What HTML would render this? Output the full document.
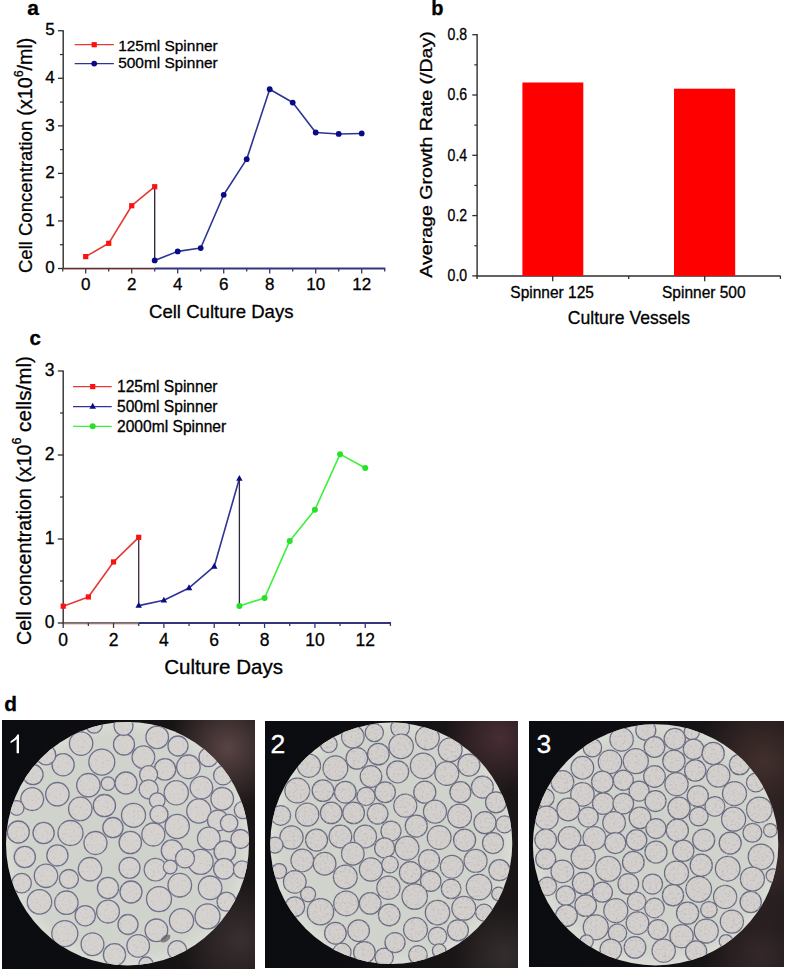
<!DOCTYPE html>
<html><head><meta charset="utf-8"><title>Figure</title>
<style>html,body{margin:0;padding:0;background:#fff;}body{width:785px;height:971px;overflow:hidden;font-family:"Liberation Sans", sans-serif;}svg{display:block;}text{stroke:#000;stroke-width:0.3px;}</style>
</head><body>
<svg width="785" height="971" viewBox="0 0 785 971" font-family='"Liberation Sans", sans-serif'><defs><clipPath id="pc0"><rect x="2" y="720" width="253" height="249"/></clipPath><clipPath id="fc0"><ellipse cx="127.5" cy="843.7" rx="121.5" ry="121.7"/></clipPath><radialGradient id="gl0_0" gradientUnits="userSpaceOnUse" cx="228" cy="748" r="60"><stop offset="0" stop-color="#5c4646" stop-opacity="0.95"/><stop offset="1" stop-color="#5c4646" stop-opacity="0"/></radialGradient><radialGradient id="gl0_1" gradientUnits="userSpaceOnUse" cx="240" cy="940" r="60"><stop offset="0" stop-color="#3e3434" stop-opacity="0.85"/><stop offset="1" stop-color="#3e3434" stop-opacity="0"/></radialGradient><linearGradient id="lg0" x1="0" y1="0" x2="1" y2="0"><stop offset="0" stop-color="#0b0c10"/><stop offset="0.5" stop-color="#0f0f12"/><stop offset="0.85" stop-color="#1e1819"/><stop offset="1" stop-color="#1a1516"/></linearGradient><radialGradient id="fg0" cx="0.5" cy="0.5" r="0.5"><stop offset="0" stop-color="#ced2cb"/><stop offset="0.9" stop-color="#d1d4cd"/><stop offset="1" stop-color="#dadcd6"/></radialGradient><clipPath id="pc1"><rect x="265" y="721" width="253" height="247"/></clipPath><clipPath id="fc1"><ellipse cx="391.3" cy="843.3" rx="121" ry="120.7"/></clipPath><radialGradient id="gl1_0" gradientUnits="userSpaceOnUse" cx="500" cy="738" r="55"><stop offset="0" stop-color="#4c3038" stop-opacity="0.9"/><stop offset="1" stop-color="#4c3038" stop-opacity="0"/></radialGradient><radialGradient id="gl1_1" gradientUnits="userSpaceOnUse" cx="505" cy="955" r="50"><stop offset="0" stop-color="#3a3434" stop-opacity="0.8"/><stop offset="1" stop-color="#3a3434" stop-opacity="0"/></radialGradient><linearGradient id="lg1" x1="0" y1="0" x2="1" y2="0"><stop offset="0" stop-color="#0b0c10"/><stop offset="0.5" stop-color="#0f0f12"/><stop offset="0.85" stop-color="#1e1819"/><stop offset="1" stop-color="#1a1516"/></linearGradient><radialGradient id="fg1" cx="0.5" cy="0.5" r="0.5"><stop offset="0" stop-color="#ced2cb"/><stop offset="0.9" stop-color="#d1d4cd"/><stop offset="1" stop-color="#dadcd6"/></radialGradient><clipPath id="pc2"><rect x="529" y="721" width="255" height="246"/></clipPath><clipPath id="fc2"><ellipse cx="655.6" cy="844.8" rx="122.7" ry="120.6"/></clipPath><radialGradient id="gl2_0" gradientUnits="userSpaceOnUse" cx="765" cy="762" r="70"><stop offset="0" stop-color="#46322f" stop-opacity="0.9"/><stop offset="1" stop-color="#46322f" stop-opacity="0"/></radialGradient><radialGradient id="gl2_1" gradientUnits="userSpaceOnUse" cx="772" cy="860" r="70"><stop offset="0" stop-color="#3e2e30" stop-opacity="0.85"/><stop offset="1" stop-color="#3e2e30" stop-opacity="0"/></radialGradient><radialGradient id="gl2_2" gradientUnits="userSpaceOnUse" cx="762" cy="955" r="60"><stop offset="0" stop-color="#3a2c2e" stop-opacity="0.8"/><stop offset="1" stop-color="#3a2c2e" stop-opacity="0"/></radialGradient><linearGradient id="lg2" x1="0" y1="0" x2="1" y2="0"><stop offset="0" stop-color="#0b0c10"/><stop offset="0.5" stop-color="#0f0f12"/><stop offset="0.85" stop-color="#1e1819"/><stop offset="1" stop-color="#1a1516"/></linearGradient><radialGradient id="fg2" cx="0.5" cy="0.5" r="0.5"><stop offset="0" stop-color="#ced2cb"/><stop offset="0.9" stop-color="#d1d4cd"/><stop offset="1" stop-color="#dadcd6"/></radialGradient><filter id="soft" x="-5%" y="-5%" width="110%" height="110%"><feGaussianBlur stdDeviation="0.6"/></filter><filter id="tex0" x="0" y="0" width="100%" height="100%"><feTurbulence type="fractalNoise" baseFrequency="0.45" numOctaves="2" seed="7" result="n"/><feColorMatrix in="n" type="matrix" values="0 0 0 0 0.45  0 0 0 0 0.44  0 0 0 0 0.47  0 0 0 -1.6 0.72" result="d"/><feComposite in="d" in2="SourceGraphic" operator="in" result="dm"/><feMerge><feMergeNode in="SourceGraphic"/><feMergeNode in="dm"/></feMerge></filter><filter id="tex1" x="0" y="0" width="100%" height="100%"><feTurbulence type="fractalNoise" baseFrequency="0.45" numOctaves="2" seed="7" result="n"/><feColorMatrix in="n" type="matrix" values="0 0 0 0 0.45  0 0 0 0 0.44  0 0 0 0 0.47  0 0 0 -1.8 0.92" result="d"/><feComposite in="d" in2="SourceGraphic" operator="in" result="dm"/><feMerge><feMergeNode in="SourceGraphic"/><feMergeNode in="dm"/></feMerge></filter><filter id="tex2" x="0" y="0" width="100%" height="100%"><feTurbulence type="fractalNoise" baseFrequency="0.45" numOctaves="2" seed="7" result="n"/><feColorMatrix in="n" type="matrix" values="0 0 0 0 0.45  0 0 0 0 0.44  0 0 0 0 0.47  0 0 0 -1.8 0.92" result="d"/><feComposite in="d" in2="SourceGraphic" operator="in" result="dm"/><feMerge><feMergeNode in="SourceGraphic"/><feMergeNode in="dm"/></feMerge></filter></defs><text x="27.3" y="15.3" font-size="21" text-anchor="start" font-weight="bold" fill="#000" >a</text>
<line x1="63.20" y1="30.15" x2="63.20" y2="269.10" stroke="#2e2e2e" stroke-width="1.4" />
<line x1="58.00" y1="268.50" x2="63.20" y2="268.50" stroke="#2e2e2e" stroke-width="1.3" />
<text x="54.8" y="273.1" font-size="17" text-anchor="end" font-weight="normal" fill="#000" >0</text>
<line x1="58.00" y1="220.95" x2="63.20" y2="220.95" stroke="#2e2e2e" stroke-width="1.3" />
<text x="54.8" y="225.5" font-size="17" text-anchor="end" font-weight="normal" fill="#000" >1</text>
<line x1="58.00" y1="173.40" x2="63.20" y2="173.40" stroke="#2e2e2e" stroke-width="1.3" />
<text x="54.8" y="178.0" font-size="17" text-anchor="end" font-weight="normal" fill="#000" >2</text>
<line x1="58.00" y1="125.85" x2="63.20" y2="125.85" stroke="#2e2e2e" stroke-width="1.3" />
<text x="54.8" y="130.5" font-size="17" text-anchor="end" font-weight="normal" fill="#000" >3</text>
<line x1="58.00" y1="78.30" x2="63.20" y2="78.30" stroke="#2e2e2e" stroke-width="1.3" />
<text x="54.8" y="82.9" font-size="17" text-anchor="end" font-weight="normal" fill="#000" >4</text>
<line x1="58.00" y1="30.75" x2="63.20" y2="30.75" stroke="#2e2e2e" stroke-width="1.3" />
<text x="54.8" y="35.4" font-size="17" text-anchor="end" font-weight="normal" fill="#000" >5</text>
<line x1="60.00" y1="244.72" x2="63.20" y2="244.72" stroke="#2e2e2e" stroke-width="1.2" />
<line x1="60.00" y1="197.18" x2="63.20" y2="197.18" stroke="#2e2e2e" stroke-width="1.2" />
<line x1="60.00" y1="149.62" x2="63.20" y2="149.62" stroke="#2e2e2e" stroke-width="1.2" />
<line x1="60.00" y1="102.08" x2="63.20" y2="102.08" stroke="#2e2e2e" stroke-width="1.2" />
<line x1="60.00" y1="54.53" x2="63.20" y2="54.53" stroke="#2e2e2e" stroke-width="1.2" />
<line x1="62.50" y1="269.40" x2="154.70" y2="269.40" stroke="#e87070" stroke-width="0.8" />
<line x1="62.50" y1="268.30" x2="154.70" y2="268.30" stroke="#3c3c3c" stroke-width="1.3" />
<line x1="154.70" y1="268.50" x2="385.30" y2="268.50" stroke="#33377a" stroke-width="1.8" />
<line x1="62.70" y1="268.50" x2="62.70" y2="271.50" stroke="#3c3c3c" stroke-width="1.3" />
<line x1="85.70" y1="268.50" x2="85.70" y2="273.50" stroke="#3c3c3c" stroke-width="1.3" />
<text x="85.7" y="290.0" font-size="17" text-anchor="middle" font-weight="normal" fill="#000" >0</text>
<line x1="108.70" y1="268.50" x2="108.70" y2="271.50" stroke="#3c3c3c" stroke-width="1.3" />
<line x1="131.70" y1="268.50" x2="131.70" y2="273.50" stroke="#3c3c3c" stroke-width="1.3" />
<text x="131.7" y="290.0" font-size="17" text-anchor="middle" font-weight="normal" fill="#000" >2</text>
<line x1="154.70" y1="268.50" x2="154.70" y2="271.50" stroke="#33377a" stroke-width="1.3" />
<line x1="177.70" y1="268.50" x2="177.70" y2="273.50" stroke="#33377a" stroke-width="1.3" />
<text x="177.7" y="290.0" font-size="17" text-anchor="middle" font-weight="normal" fill="#000" >4</text>
<line x1="200.70" y1="268.50" x2="200.70" y2="271.50" stroke="#33377a" stroke-width="1.3" />
<line x1="223.70" y1="268.50" x2="223.70" y2="273.50" stroke="#33377a" stroke-width="1.3" />
<text x="223.7" y="290.0" font-size="17" text-anchor="middle" font-weight="normal" fill="#000" >6</text>
<line x1="246.70" y1="268.50" x2="246.70" y2="271.50" stroke="#33377a" stroke-width="1.3" />
<line x1="269.70" y1="268.50" x2="269.70" y2="273.50" stroke="#33377a" stroke-width="1.3" />
<text x="269.7" y="290.0" font-size="17" text-anchor="middle" font-weight="normal" fill="#000" >8</text>
<line x1="292.70" y1="268.50" x2="292.70" y2="271.50" stroke="#33377a" stroke-width="1.3" />
<line x1="315.70" y1="268.50" x2="315.70" y2="273.50" stroke="#33377a" stroke-width="1.3" />
<text x="315.7" y="290.0" font-size="17" text-anchor="middle" font-weight="normal" fill="#000" >10</text>
<line x1="338.70" y1="268.50" x2="338.70" y2="271.50" stroke="#33377a" stroke-width="1.3" />
<line x1="361.70" y1="268.50" x2="361.70" y2="273.50" stroke="#33377a" stroke-width="1.3" />
<text x="361.7" y="290.0" font-size="17" text-anchor="middle" font-weight="normal" fill="#000" >12</text>
<line x1="384.70" y1="268.50" x2="384.70" y2="271.50" stroke="#33377a" stroke-width="1.3" />
<text x="149.0" y="317.9" font-size="18.6" text-anchor="start" font-weight="normal" fill="#000" textLength="144.5" lengthAdjust="spacingAndGlyphs" >Cell Culture Days</text>
<text transform="translate(31.9,273.0) rotate(-90)" font-size="18.5" fill="#000">Cell Concentration <tspan font-size="19.7">(x10</tspan><tspan dy="-9.4" font-size="12.5">6</tspan><tspan dy="9.4" font-size="19.7">/ml)</tspan></text>
<polyline points="85.70,256.61 108.70,243.30 131.70,205.73 154.70,186.71" fill="none" stroke="#e33a36" stroke-width="1.6" stroke-linejoin="round"/>
<line x1="154.70" y1="186.71" x2="154.70" y2="260.42" stroke="#2a2030" stroke-width="1.3" />
<polyline points="154.70,260.42 177.70,251.38 200.70,248.05 223.70,194.80 246.70,159.14 269.70,89.24 292.70,102.55 315.70,132.51 338.70,133.93 361.70,133.46" fill="none" stroke="#2e3496" stroke-width="1.6" stroke-linejoin="round"/>
<rect x="83.10" y="254.01" width="5.2" height="5.2" fill="#ff1010"/>
<rect x="106.10" y="240.70" width="5.2" height="5.2" fill="#ff1010"/>
<rect x="129.10" y="203.13" width="5.2" height="5.2" fill="#ff1010"/>
<rect x="152.10" y="184.11" width="5.2" height="5.2" fill="#ff1010"/>
<circle cx="154.70" cy="260.42" r="2.9" fill="#0b0b88"/>
<circle cx="177.70" cy="251.38" r="2.9" fill="#0b0b88"/>
<circle cx="200.70" cy="248.05" r="2.9" fill="#0b0b88"/>
<circle cx="223.70" cy="194.80" r="2.9" fill="#0b0b88"/>
<circle cx="246.70" cy="159.14" r="2.9" fill="#0b0b88"/>
<circle cx="269.70" cy="89.24" r="2.9" fill="#0b0b88"/>
<circle cx="292.70" cy="102.55" r="2.9" fill="#0b0b88"/>
<circle cx="315.70" cy="132.51" r="2.9" fill="#0b0b88"/>
<circle cx="338.70" cy="133.93" r="2.9" fill="#0b0b88"/>
<circle cx="361.70" cy="133.46" r="2.9" fill="#0b0b88"/>
<line x1="74.70" y1="44.70" x2="113.90" y2="44.70" stroke="#e33a36" stroke-width="1.25" />
<rect x="91.60" y="42.10" width="5.2" height="5.2" fill="#ff1010"/>
<line x1="74.70" y1="63.60" x2="113.90" y2="63.60" stroke="#2e3496" stroke-width="1.25" />
<circle cx="94.20" cy="63.60" r="2.9" fill="#0b0b88"/>
<text x="118.2" y="50.8" font-size="15.4" text-anchor="start" font-weight="normal" fill="#000" textLength="99.5" lengthAdjust="spacingAndGlyphs" >125ml Spinner</text>
<text x="118.2" y="68.2" font-size="15.4" text-anchor="start" font-weight="normal" fill="#000" textLength="99.5" lengthAdjust="spacingAndGlyphs" >500ml Spinner</text>
<text x="431.2" y="14.7" font-size="20" text-anchor="start" font-weight="bold" fill="#000" >b</text>
<line x1="477.10" y1="34.10" x2="477.10" y2="278.90" stroke="#2e2e2e" stroke-width="1.4" />
<line x1="472.30" y1="275.90" x2="477.10" y2="275.90" stroke="#2e2e2e" stroke-width="1.3" />
<text x="467.2" y="281.3" font-size="16.6" text-anchor="end" font-weight="normal" fill="#000" textLength="19.6" lengthAdjust="spacingAndGlyphs" >0.0</text>
<line x1="472.30" y1="215.60" x2="477.10" y2="215.60" stroke="#2e2e2e" stroke-width="1.3" />
<text x="467.2" y="221.0" font-size="16.6" text-anchor="end" font-weight="normal" fill="#000" textLength="19.6" lengthAdjust="spacingAndGlyphs" >0.2</text>
<line x1="472.30" y1="155.30" x2="477.10" y2="155.30" stroke="#2e2e2e" stroke-width="1.3" />
<text x="467.2" y="160.7" font-size="16.6" text-anchor="end" font-weight="normal" fill="#000" textLength="19.6" lengthAdjust="spacingAndGlyphs" >0.4</text>
<line x1="472.30" y1="95.00" x2="477.10" y2="95.00" stroke="#2e2e2e" stroke-width="1.3" />
<text x="467.2" y="100.4" font-size="16.6" text-anchor="end" font-weight="normal" fill="#000" textLength="19.6" lengthAdjust="spacingAndGlyphs" >0.6</text>
<line x1="472.30" y1="34.70" x2="477.10" y2="34.70" stroke="#2e2e2e" stroke-width="1.3" />
<text x="467.2" y="40.1" font-size="16.6" text-anchor="end" font-weight="normal" fill="#000" textLength="19.6" lengthAdjust="spacingAndGlyphs" >0.8</text>
<line x1="474.30" y1="245.75" x2="477.10" y2="245.75" stroke="#2e2e2e" stroke-width="1.2" />
<line x1="474.30" y1="185.45" x2="477.10" y2="185.45" stroke="#2e2e2e" stroke-width="1.2" />
<line x1="474.30" y1="125.15" x2="477.10" y2="125.15" stroke="#2e2e2e" stroke-width="1.2" />
<line x1="474.30" y1="64.85" x2="477.10" y2="64.85" stroke="#2e2e2e" stroke-width="1.2" />
<line x1="476.40" y1="275.90" x2="780.60" y2="275.90" stroke="#2e2e2e" stroke-width="1.5" />
<line x1="552.70" y1="275.90" x2="552.70" y2="281.20" stroke="#2e2e2e" stroke-width="1.3" />
<line x1="704.70" y1="275.90" x2="704.70" y2="281.20" stroke="#2e2e2e" stroke-width="1.3" />
<line x1="628.70" y1="275.90" x2="628.70" y2="278.90" stroke="#2e2e2e" stroke-width="1.3" />
<line x1="780.40" y1="275.90" x2="780.40" y2="278.90" stroke="#2e2e2e" stroke-width="1.3" />
<rect x="522.4" y="82.5" width="60.9" height="193.4" fill="#ff0000"/>
<rect x="674.0" y="88.7" width="61.2" height="187.2" fill="#ff0000"/>
<text x="510.3" y="297.6" font-size="15.6" text-anchor="start" font-weight="normal" fill="#000" textLength="83.6" lengthAdjust="spacingAndGlyphs" >Spinner 125</text>
<text x="662.0" y="297.6" font-size="15.6" text-anchor="start" font-weight="normal" fill="#000" textLength="83.6" lengthAdjust="spacingAndGlyphs" >Spinner 500</text>
<text x="567.8" y="324.4" font-size="18.4" text-anchor="start" font-weight="normal" fill="#000" textLength="122.2" lengthAdjust="spacingAndGlyphs" >Culture Vessels</text>
<text transform="translate(432.0,277.7) rotate(-90)" font-size="17.2" fill="#000" textLength="246.5" lengthAdjust="spacingAndGlyphs">Average Growth Rate (/Day)</text>
<text x="29.6" y="345.4" font-size="20.5" text-anchor="start" font-weight="bold" fill="#000" >c</text>
<line x1="63.20" y1="370.40" x2="63.20" y2="623.60" stroke="#2e2e2e" stroke-width="1.4" />
<line x1="57.80" y1="623.00" x2="63.20" y2="623.00" stroke="#2e2e2e" stroke-width="1.3" />
<text x="54.6" y="628.2" font-size="17.5" text-anchor="end" font-weight="normal" fill="#000" >0</text>
<line x1="57.80" y1="539.00" x2="63.20" y2="539.00" stroke="#2e2e2e" stroke-width="1.3" />
<text x="54.6" y="544.2" font-size="17.5" text-anchor="end" font-weight="normal" fill="#000" >1</text>
<line x1="57.80" y1="455.00" x2="63.20" y2="455.00" stroke="#2e2e2e" stroke-width="1.3" />
<text x="54.6" y="460.2" font-size="17.5" text-anchor="end" font-weight="normal" fill="#000" >2</text>
<line x1="57.80" y1="371.00" x2="63.20" y2="371.00" stroke="#2e2e2e" stroke-width="1.3" />
<text x="54.6" y="376.2" font-size="17.5" text-anchor="end" font-weight="normal" fill="#000" >3</text>
<line x1="60.00" y1="581.00" x2="63.20" y2="581.00" stroke="#2e2e2e" stroke-width="1.2" />
<line x1="60.00" y1="497.00" x2="63.20" y2="497.00" stroke="#2e2e2e" stroke-width="1.2" />
<line x1="60.00" y1="413.00" x2="63.20" y2="413.00" stroke="#2e2e2e" stroke-width="1.2" />
<line x1="62.50" y1="623.90" x2="138.71" y2="623.90" stroke="#e87070" stroke-width="0.8" />
<line x1="62.50" y1="622.80" x2="138.71" y2="622.80" stroke="#3c3c3c" stroke-width="1.3" />
<line x1="138.71" y1="623.00" x2="391.01" y2="623.00" stroke="#33377a" stroke-width="1.8" />
<line x1="63.20" y1="623.00" x2="63.20" y2="628.00" stroke="#3c3c3c" stroke-width="1.3" />
<text x="63.2" y="646.0" font-size="17.5" text-anchor="middle" font-weight="normal" fill="#000" >0</text>
<line x1="88.37" y1="623.00" x2="88.37" y2="626.00" stroke="#3c3c3c" stroke-width="1.3" />
<line x1="113.54" y1="623.00" x2="113.54" y2="628.00" stroke="#3c3c3c" stroke-width="1.3" />
<text x="113.5" y="646.0" font-size="17.5" text-anchor="middle" font-weight="normal" fill="#000" >2</text>
<line x1="138.71" y1="623.00" x2="138.71" y2="626.00" stroke="#33377a" stroke-width="1.3" />
<line x1="163.88" y1="623.00" x2="163.88" y2="628.00" stroke="#33377a" stroke-width="1.3" />
<text x="163.9" y="646.0" font-size="17.5" text-anchor="middle" font-weight="normal" fill="#000" >4</text>
<line x1="189.05" y1="623.00" x2="189.05" y2="626.00" stroke="#33377a" stroke-width="1.3" />
<line x1="214.22" y1="623.00" x2="214.22" y2="628.00" stroke="#33377a" stroke-width="1.3" />
<text x="214.2" y="646.0" font-size="17.5" text-anchor="middle" font-weight="normal" fill="#000" >6</text>
<line x1="239.39" y1="623.00" x2="239.39" y2="626.00" stroke="#33377a" stroke-width="1.3" />
<line x1="264.56" y1="623.00" x2="264.56" y2="628.00" stroke="#33377a" stroke-width="1.3" />
<text x="264.6" y="646.0" font-size="17.5" text-anchor="middle" font-weight="normal" fill="#000" >8</text>
<line x1="289.73" y1="623.00" x2="289.73" y2="626.00" stroke="#33377a" stroke-width="1.3" />
<line x1="314.90" y1="623.00" x2="314.90" y2="628.00" stroke="#33377a" stroke-width="1.3" />
<text x="314.9" y="646.0" font-size="17.5" text-anchor="middle" font-weight="normal" fill="#000" >10</text>
<line x1="340.07" y1="623.00" x2="340.07" y2="626.00" stroke="#33377a" stroke-width="1.3" />
<line x1="365.24" y1="623.00" x2="365.24" y2="628.00" stroke="#33377a" stroke-width="1.3" />
<text x="365.2" y="646.0" font-size="17.5" text-anchor="middle" font-weight="normal" fill="#000" >12</text>
<line x1="390.41" y1="623.00" x2="390.41" y2="626.00" stroke="#33377a" stroke-width="1.3" />
<text x="164.2" y="674.1" font-size="20.3" text-anchor="start" font-weight="normal" fill="#000" textLength="118.8" lengthAdjust="spacingAndGlyphs" >Culture Days</text>
<text transform="translate(30.9,645.0) rotate(-90)" font-size="19.6" fill="#000">Cell concentration (x10<tspan dy="-10" font-size="12.5">6</tspan><tspan dy="10" font-size="20.7"> cells/ml)</tspan></text>
<polyline points="63.20,606.20 88.37,596.96 113.54,561.93 138.71,537.32" fill="none" stroke="#e33a36" stroke-width="1.6" stroke-linejoin="round"/>
<line x1="138.71" y1="537.32" x2="138.71" y2="605.61" stroke="#3a2838" stroke-width="1.3" />
<polyline points="138.71,605.61 163.88,600.32 189.05,587.97 214.22,566.47 239.39,478.52" fill="none" stroke="#2e3496" stroke-width="1.6" stroke-linejoin="round"/>
<line x1="239.39" y1="478.52" x2="239.39" y2="605.95" stroke="#2a2a3a" stroke-width="1.3" />
<polyline points="239.39,605.95 264.56,597.97 289.73,540.93 314.90,509.77 340.07,454.16 365.24,468.02" fill="none" stroke="#3cf03c" stroke-width="1.6" stroke-linejoin="round"/>
<rect x="60.60" y="603.60" width="5.2" height="5.2" fill="#ff1010"/>
<rect x="85.77" y="594.36" width="5.2" height="5.2" fill="#ff1010"/>
<rect x="110.94" y="559.33" width="5.2" height="5.2" fill="#ff1010"/>
<rect x="136.11" y="534.72" width="5.2" height="5.2" fill="#ff1010"/>
<path d="M138.71,601.99 L141.96,607.83 L135.46,607.83Z" fill="#0b0b88"/>
<path d="M163.88,596.69 L167.13,602.54 L160.63,602.54Z" fill="#0b0b88"/>
<path d="M189.05,584.35 L192.30,590.19 L185.80,590.19Z" fill="#0b0b88"/>
<path d="M214.22,562.84 L217.47,568.69 L210.97,568.69Z" fill="#0b0b88"/>
<path d="M239.39,474.89 L242.64,480.74 L236.14,480.74Z" fill="#0b0b88"/>
<circle cx="239.39" cy="605.95" r="3.0" fill="#28e028"/>
<circle cx="264.56" cy="597.97" r="3.0" fill="#28e028"/>
<circle cx="289.73" cy="540.93" r="3.0" fill="#28e028"/>
<circle cx="314.90" cy="509.77" r="3.0" fill="#28e028"/>
<circle cx="340.07" cy="454.16" r="3.0" fill="#28e028"/>
<circle cx="365.24" cy="468.02" r="3.0" fill="#28e028"/>
<line x1="73.00" y1="386.60" x2="111.70" y2="386.60" stroke="#e33a36" stroke-width="1.25" />
<rect x="90.10" y="384.00" width="5.2" height="5.2" fill="#ff1010"/>
<line x1="73.00" y1="406.50" x2="111.70" y2="406.50" stroke="#2e3496" stroke-width="1.25" />
<path d="M92.70,402.87 L95.95,408.72 L89.45,408.72Z" fill="#0b0b88"/>
<line x1="73.00" y1="426.30" x2="111.70" y2="426.30" stroke="#3cf03c" stroke-width="1.25" />
<circle cx="92.70" cy="426.30" r="3.0" fill="#28e028"/>
<text x="117.0" y="392.4" font-size="15.6" text-anchor="start" font-weight="normal" fill="#000" >125ml Spinner</text>
<text x="117.0" y="412.2" font-size="15.6" text-anchor="start" font-weight="normal" fill="#000" >500ml Spinner</text>
<text x="117.0" y="432.0" font-size="15.6" text-anchor="start" font-weight="normal" fill="#000" >2000ml Spinner</text>
<text x="4.3" y="710.6" font-size="20.8" text-anchor="start" font-weight="bold" fill="#000" >d</text>
<g clip-path="url(#pc0)">
<rect x="2" y="720" width="253" height="249" fill="url(#lg0)"/>
<rect x="2" y="720" width="253" height="249" fill="url(#gl0_0)"/>
<rect x="2" y="720" width="253" height="249" fill="url(#gl0_1)"/>
<g filter="url(#soft)">
<ellipse cx="127.5" cy="843.7" rx="121.5" ry="121.7" fill="url(#fg0)"/>
<g clip-path="url(#fc0)"><g filter="url(#tex0)">
<circle cx="81.1" cy="743.6" r="11.7" fill="#d6d2cf" stroke="#6c6e88" stroke-width="1.3"/>
<circle cx="101.8" cy="762.1" r="13.0" fill="#d6d2cf" stroke="#6c6e88" stroke-width="1.3"/>
<circle cx="124.0" cy="744.5" r="10.5" fill="#d6d2cf" stroke="#6c6e88" stroke-width="1.3"/>
<circle cx="94.1" cy="724.9" r="8.2" fill="#d6d2cf" stroke="#6c6e88" stroke-width="1.3"/>
<circle cx="123.5" cy="726.0" r="9.5" fill="#d6d2cf" stroke="#6c6e88" stroke-width="1.3"/>
<circle cx="63.1" cy="764.8" r="11.1" fill="#d6d2cf" stroke="#6c6e88" stroke-width="1.3"/>
<circle cx="46.0" cy="755.0" r="9.8" fill="#d6d2cf" stroke="#6c6e88" stroke-width="1.3"/>
<circle cx="33.0" cy="774.6" r="10.1" fill="#d6d2cf" stroke="#6c6e88" stroke-width="1.3"/>
<circle cx="88.4" cy="785.2" r="11.7" fill="#d6d2cf" stroke="#6c6e88" stroke-width="1.3"/>
<circle cx="108.0" cy="783.6" r="6.8" fill="#d6d2cf" stroke="#6c6e88" stroke-width="1.3"/>
<circle cx="126.0" cy="783.0" r="11.0" fill="#d6d2cf" stroke="#6c6e88" stroke-width="1.3"/>
<circle cx="57.4" cy="794.2" r="11.7" fill="#d6d2cf" stroke="#6c6e88" stroke-width="1.3"/>
<circle cx="32.2" cy="799.1" r="11.4" fill="#d6d2cf" stroke="#6c6e88" stroke-width="1.3"/>
<circle cx="80.3" cy="808.9" r="11.7" fill="#d6d2cf" stroke="#6c6e88" stroke-width="1.3"/>
<circle cx="104.4" cy="805.6" r="11.1" fill="#d6d2cf" stroke="#6c6e88" stroke-width="1.3"/>
<circle cx="133.5" cy="815.3" r="12.0" fill="#d6d2cf" stroke="#6c6e88" stroke-width="1.3"/>
<circle cx="16.7" cy="808.0" r="7.3" fill="#d6d2cf" stroke="#6c6e88" stroke-width="1.3"/>
<circle cx="18.3" cy="832.0" r="11.0" fill="#d6d2cf" stroke="#6c6e88" stroke-width="1.3"/>
<circle cx="43.6" cy="833.0" r="10.6" fill="#d6d2cf" stroke="#6c6e88" stroke-width="1.3"/>
<circle cx="70.5" cy="833.0" r="12.5" fill="#d6d2cf" stroke="#6c6e88" stroke-width="1.3"/>
<circle cx="95.5" cy="843.0" r="11.5" fill="#d6d2cf" stroke="#6c6e88" stroke-width="1.3"/>
<circle cx="112.9" cy="827.6" r="10.1" fill="#d6d2cf" stroke="#6c6e88" stroke-width="1.3"/>
<circle cx="130.3" cy="842.5" r="11.2" fill="#d6d2cf" stroke="#6c6e88" stroke-width="1.3"/>
<circle cx="157.2" cy="737.3" r="11.3" fill="#d6d2cf" stroke="#6c6e88" stroke-width="1.3"/>
<circle cx="178.0" cy="746.0" r="10.0" fill="#d6d2cf" stroke="#6c6e88" stroke-width="1.3"/>
<circle cx="143.4" cy="757.2" r="11.3" fill="#d6d2cf" stroke="#6c6e88" stroke-width="1.3"/>
<circle cx="188.4" cy="766.8" r="11.8" fill="#d6d2cf" stroke="#6c6e88" stroke-width="1.3"/>
<circle cx="208.4" cy="757.2" r="9.5" fill="#d6d2cf" stroke="#6c6e88" stroke-width="1.3"/>
<circle cx="165.0" cy="769.4" r="10.7" fill="#d6d2cf" stroke="#6c6e88" stroke-width="1.3"/>
<circle cx="148.6" cy="774.6" r="9.0" fill="#d6d2cf" stroke="#6c6e88" stroke-width="1.3"/>
<circle cx="223.1" cy="775.4" r="9.5" fill="#d6d2cf" stroke="#6c6e88" stroke-width="1.3"/>
<circle cx="148.6" cy="789.3" r="9.5" fill="#d6d2cf" stroke="#6c6e88" stroke-width="1.3"/>
<circle cx="176.3" cy="792.8" r="12.1" fill="#d6d2cf" stroke="#6c6e88" stroke-width="1.3"/>
<circle cx="201.4" cy="787.6" r="11.3" fill="#d6d2cf" stroke="#6c6e88" stroke-width="1.3"/>
<circle cx="157.2" cy="800.6" r="7.8" fill="#d6d2cf" stroke="#6c6e88" stroke-width="1.3"/>
<circle cx="222.2" cy="798.8" r="11.3" fill="#d6d2cf" stroke="#6c6e88" stroke-width="1.3"/>
<circle cx="159.0" cy="814.4" r="9.0" fill="#d6d2cf" stroke="#6c6e88" stroke-width="1.3"/>
<circle cx="198.8" cy="811.0" r="12.1" fill="#d6d2cf" stroke="#6c6e88" stroke-width="1.3"/>
<circle cx="217.9" cy="820.5" r="10.4" fill="#d6d2cf" stroke="#6c6e88" stroke-width="1.3"/>
<circle cx="229.1" cy="823.1" r="8.7" fill="#d6d2cf" stroke="#6c6e88" stroke-width="1.3"/>
<circle cx="243.0" cy="810.0" r="8.7" fill="#d6d2cf" stroke="#6c6e88" stroke-width="1.3"/>
<circle cx="177.2" cy="826.5" r="12.1" fill="#d6d2cf" stroke="#6c6e88" stroke-width="1.3"/>
<circle cx="153.3" cy="834.5" r="11.5" fill="#d6d2cf" stroke="#6c6e88" stroke-width="1.3"/>
<circle cx="208.8" cy="838.5" r="11.3" fill="#d6d2cf" stroke="#6c6e88" stroke-width="1.3"/>
<circle cx="240.5" cy="839.0" r="9.5" fill="#d6d2cf" stroke="#6c6e88" stroke-width="1.3"/>
<circle cx="24.8" cy="857.0" r="10.6" fill="#d6d2cf" stroke="#6c6e88" stroke-width="1.3"/>
<circle cx="57.4" cy="855.4" r="10.6" fill="#d6d2cf" stroke="#6c6e88" stroke-width="1.3"/>
<circle cx="90.0" cy="869.2" r="11.7" fill="#d6d2cf" stroke="#6c6e88" stroke-width="1.3"/>
<circle cx="46.0" cy="875.8" r="11.7" fill="#d6d2cf" stroke="#6c6e88" stroke-width="1.3"/>
<circle cx="68.9" cy="879.0" r="9.5" fill="#d6d2cf" stroke="#6c6e88" stroke-width="1.3"/>
<circle cx="21.6" cy="883.1" r="9.8" fill="#d6d2cf" stroke="#6c6e88" stroke-width="1.3"/>
<circle cx="108.0" cy="888.0" r="10.6" fill="#d6d2cf" stroke="#6c6e88" stroke-width="1.3"/>
<circle cx="39.5" cy="901.9" r="12.2" fill="#d6d2cf" stroke="#6c6e88" stroke-width="1.3"/>
<circle cx="66.4" cy="902.7" r="11.7" fill="#d6d2cf" stroke="#6c6e88" stroke-width="1.3"/>
<circle cx="85.2" cy="915.7" r="10.1" fill="#d6d2cf" stroke="#6c6e88" stroke-width="1.3"/>
<circle cx="108.0" cy="911.6" r="11.4" fill="#d6d2cf" stroke="#6c6e88" stroke-width="1.3"/>
<circle cx="64.8" cy="933.6" r="13.0" fill="#d6d2cf" stroke="#6c6e88" stroke-width="1.3"/>
<circle cx="92.5" cy="944.2" r="11.4" fill="#d6d2cf" stroke="#6c6e88" stroke-width="1.3"/>
<circle cx="114.5" cy="954.8" r="11.1" fill="#d6d2cf" stroke="#6c6e88" stroke-width="1.3"/>
<circle cx="129.5" cy="867.8" r="10.5" fill="#d6d2cf" stroke="#6c6e88" stroke-width="1.3"/>
<circle cx="131.0" cy="892.0" r="11.0" fill="#d6d2cf" stroke="#6c6e88" stroke-width="1.3"/>
<circle cx="128.0" cy="924.5" r="10.0" fill="#d6d2cf" stroke="#6c6e88" stroke-width="1.3"/>
<circle cx="172.0" cy="850.6" r="10.7" fill="#d6d2cf" stroke="#6c6e88" stroke-width="1.3"/>
<circle cx="200.6" cy="861.9" r="12.5" fill="#d6d2cf" stroke="#6c6e88" stroke-width="1.3"/>
<circle cx="224.8" cy="851.5" r="10.7" fill="#d6d2cf" stroke="#6c6e88" stroke-width="1.3"/>
<circle cx="185.0" cy="858.4" r="9.5" fill="#d6d2cf" stroke="#6c6e88" stroke-width="1.3"/>
<circle cx="155.5" cy="869.6" r="11.3" fill="#d6d2cf" stroke="#6c6e88" stroke-width="1.3"/>
<circle cx="170.2" cy="867.0" r="6.9" fill="#d6d2cf" stroke="#6c6e88" stroke-width="1.3"/>
<circle cx="224.0" cy="868.8" r="10.4" fill="#d6d2cf" stroke="#6c6e88" stroke-width="1.3"/>
<circle cx="242.1" cy="869.6" r="8.7" fill="#d6d2cf" stroke="#6c6e88" stroke-width="1.3"/>
<circle cx="179.8" cy="885.2" r="11.8" fill="#d6d2cf" stroke="#6c6e88" stroke-width="1.3"/>
<circle cx="210.1" cy="887.8" r="11.8" fill="#d6d2cf" stroke="#6c6e88" stroke-width="1.3"/>
<circle cx="159.0" cy="899.1" r="12.5" fill="#d6d2cf" stroke="#6c6e88" stroke-width="1.3"/>
<circle cx="226.5" cy="901.7" r="9.5" fill="#d6d2cf" stroke="#6c6e88" stroke-width="1.3"/>
<circle cx="207.5" cy="916.4" r="12.5" fill="#d6d2cf" stroke="#6c6e88" stroke-width="1.3"/>
<circle cx="181.5" cy="920.8" r="12.1" fill="#d6d2cf" stroke="#6c6e88" stroke-width="1.3"/>
<circle cx="156.4" cy="930.3" r="11.3" fill="#d6d2cf" stroke="#6c6e88" stroke-width="1.3"/>
<circle cx="138.2" cy="945.9" r="11.3" fill="#d6d2cf" stroke="#6c6e88" stroke-width="1.3"/>
<circle cx="177.2" cy="950.2" r="9.5" fill="#d6d2cf" stroke="#6c6e88" stroke-width="1.3"/>
<circle cx="146.0" cy="964.0" r="7.0" fill="#d6d2cf" stroke="#6c6e88" stroke-width="1.3"/>
<ellipse cx="165.5" cy="938.5" rx="5.5" ry="3.2" transform="rotate(-35 165.5 938.5)" fill="#5a5a60" opacity="0.7"/>
</g></g></g>
<path d="M10.6,741.2 C13.5,739.6 16,737.6 17.4,734.6 L19.0,734.6 L19.0,753.2 L16.6,753.2 L16.6,739.0 C15.0,740.6 12.8,742.2 10.6,743.2 Z" fill="#fff"/>
</g>
<g clip-path="url(#pc1)">
<rect x="265" y="721" width="253" height="247" fill="url(#lg1)"/>
<rect x="265" y="721" width="253" height="247" fill="url(#gl1_0)"/>
<rect x="265" y="721" width="253" height="247" fill="url(#gl1_1)"/>
<g filter="url(#soft)">
<ellipse cx="391.3" cy="843.3" rx="121" ry="120.7" fill="url(#fg1)"/>
<g clip-path="url(#fc1)"><g filter="url(#tex1)">
<circle cx="328.8" cy="744.2" r="8.3" fill="#d4d0cd" stroke="#66687e" stroke-width="1.25"/>
<circle cx="352.8" cy="736.7" r="11.3" fill="#d4d0cd" stroke="#66687e" stroke-width="1.25"/>
<circle cx="374.3" cy="732.6" r="9.1" fill="#d4d0cd" stroke="#66687e" stroke-width="1.25"/>
<circle cx="308.9" cy="765.7" r="11.6" fill="#d4d0cd" stroke="#66687e" stroke-width="1.25"/>
<circle cx="335.4" cy="768.2" r="12.4" fill="#d4d0cd" stroke="#66687e" stroke-width="1.25"/>
<circle cx="356.9" cy="758.3" r="10.8" fill="#d4d0cd" stroke="#66687e" stroke-width="1.25"/>
<circle cx="378.4" cy="754.1" r="10.8" fill="#d4d0cd" stroke="#66687e" stroke-width="1.25"/>
<circle cx="371.0" cy="776.5" r="10.8" fill="#d4d0cd" stroke="#66687e" stroke-width="1.25"/>
<circle cx="297.3" cy="790.6" r="12.4" fill="#d4d0cd" stroke="#66687e" stroke-width="1.25"/>
<circle cx="323.0" cy="790.6" r="10.8" fill="#d4d0cd" stroke="#66687e" stroke-width="1.25"/>
<circle cx="345.3" cy="792.2" r="10.8" fill="#d4d0cd" stroke="#66687e" stroke-width="1.25"/>
<circle cx="366.0" cy="796.4" r="9.1" fill="#d4d0cd" stroke="#66687e" stroke-width="1.25"/>
<circle cx="385.1" cy="792.2" r="10.3" fill="#d4d0cd" stroke="#66687e" stroke-width="1.25"/>
<circle cx="280.7" cy="815.4" r="9.9" fill="#d4d0cd" stroke="#66687e" stroke-width="1.25"/>
<circle cx="307.2" cy="814.6" r="11.6" fill="#d4d0cd" stroke="#66687e" stroke-width="1.25"/>
<circle cx="331.2" cy="812.9" r="10.8" fill="#d4d0cd" stroke="#66687e" stroke-width="1.25"/>
<circle cx="353.6" cy="812.9" r="10.8" fill="#d4d0cd" stroke="#66687e" stroke-width="1.25"/>
<circle cx="377.6" cy="813.7" r="10.3" fill="#d4d0cd" stroke="#66687e" stroke-width="1.25"/>
<circle cx="291.5" cy="837.5" r="11.6" fill="#d4d0cd" stroke="#66687e" stroke-width="1.25"/>
<circle cx="316.5" cy="840.0" r="11.0" fill="#d4d0cd" stroke="#66687e" stroke-width="1.25"/>
<circle cx="340.4" cy="836.5" r="11.3" fill="#d4d0cd" stroke="#66687e" stroke-width="1.25"/>
<circle cx="365.2" cy="836.5" r="11.3" fill="#d4d0cd" stroke="#66687e" stroke-width="1.25"/>
<circle cx="275.0" cy="845.0" r="8.0" fill="#d4d0cd" stroke="#66687e" stroke-width="1.25"/>
<circle cx="400.2" cy="727.8" r="9.3" fill="#d4d0cd" stroke="#66687e" stroke-width="1.25"/>
<circle cx="427.4" cy="737.9" r="11.9" fill="#d4d0cd" stroke="#66687e" stroke-width="1.25"/>
<circle cx="401.1" cy="746.4" r="12.2" fill="#d4d0cd" stroke="#66687e" stroke-width="1.25"/>
<circle cx="450.2" cy="749.8" r="11.9" fill="#d4d0cd" stroke="#66687e" stroke-width="1.25"/>
<circle cx="423.1" cy="765.9" r="12.7" fill="#d4d0cd" stroke="#66687e" stroke-width="1.25"/>
<circle cx="468.9" cy="765.1" r="11.0" fill="#d4d0cd" stroke="#66687e" stroke-width="1.25"/>
<circle cx="397.7" cy="771.8" r="11.0" fill="#d4d0cd" stroke="#66687e" stroke-width="1.25"/>
<circle cx="446.8" cy="773.5" r="11.9" fill="#d4d0cd" stroke="#66687e" stroke-width="1.25"/>
<circle cx="424.8" cy="792.2" r="11.0" fill="#d4d0cd" stroke="#66687e" stroke-width="1.25"/>
<circle cx="460.4" cy="792.2" r="10.5" fill="#d4d0cd" stroke="#66687e" stroke-width="1.25"/>
<circle cx="482.4" cy="787.1" r="11.0" fill="#d4d0cd" stroke="#66687e" stroke-width="1.25"/>
<circle cx="405.3" cy="805.7" r="11.5" fill="#d4d0cd" stroke="#66687e" stroke-width="1.25"/>
<circle cx="435.0" cy="811.6" r="11.5" fill="#d4d0cd" stroke="#66687e" stroke-width="1.25"/>
<circle cx="459.6" cy="815.9" r="11.9" fill="#d4d0cd" stroke="#66687e" stroke-width="1.25"/>
<circle cx="496.0" cy="802.3" r="10.5" fill="#d4d0cd" stroke="#66687e" stroke-width="1.25"/>
<circle cx="485.0" cy="822.7" r="11.0" fill="#d4d0cd" stroke="#66687e" stroke-width="1.25"/>
<circle cx="504.5" cy="824.4" r="8.5" fill="#d4d0cd" stroke="#66687e" stroke-width="1.25"/>
<circle cx="391.0" cy="831.0" r="10.0" fill="#d4d0cd" stroke="#66687e" stroke-width="1.25"/>
<circle cx="416.3" cy="826.0" r="11.0" fill="#d4d0cd" stroke="#66687e" stroke-width="1.25"/>
<circle cx="439.2" cy="837.5" r="11.9" fill="#d4d0cd" stroke="#66687e" stroke-width="1.25"/>
<circle cx="464.6" cy="840.0" r="11.0" fill="#d4d0cd" stroke="#66687e" stroke-width="1.25"/>
<circle cx="493.0" cy="843.0" r="10.5" fill="#d4d0cd" stroke="#66687e" stroke-width="1.25"/>
<circle cx="384.6" cy="847.9" r="10.0" fill="#d4d0cd" stroke="#66687e" stroke-width="1.25"/>
<circle cx="302.3" cy="860.4" r="11.3" fill="#d4d0cd" stroke="#66687e" stroke-width="1.25"/>
<circle cx="324.6" cy="863.7" r="11.3" fill="#d4d0cd" stroke="#66687e" stroke-width="1.25"/>
<circle cx="352.8" cy="853.7" r="11.3" fill="#d4d0cd" stroke="#66687e" stroke-width="1.25"/>
<circle cx="371.0" cy="869.5" r="11.6" fill="#d4d0cd" stroke="#66687e" stroke-width="1.25"/>
<circle cx="279.1" cy="871.1" r="7.5" fill="#d4d0cd" stroke="#66687e" stroke-width="1.25"/>
<circle cx="390.0" cy="864.5" r="8.3" fill="#d4d0cd" stroke="#66687e" stroke-width="1.25"/>
<circle cx="294.8" cy="881.9" r="11.3" fill="#d4d0cd" stroke="#66687e" stroke-width="1.25"/>
<circle cx="345.3" cy="876.9" r="11.9" fill="#d4d0cd" stroke="#66687e" stroke-width="1.25"/>
<circle cx="388.4" cy="887.7" r="11.6" fill="#d4d0cd" stroke="#66687e" stroke-width="1.25"/>
<circle cx="308.1" cy="894.3" r="7.5" fill="#d4d0cd" stroke="#66687e" stroke-width="1.25"/>
<circle cx="346.2" cy="903.4" r="12.4" fill="#d4d0cd" stroke="#66687e" stroke-width="1.25"/>
<circle cx="370.2" cy="903.4" r="10.8" fill="#d4d0cd" stroke="#66687e" stroke-width="1.25"/>
<circle cx="294.8" cy="906.7" r="9.9" fill="#d4d0cd" stroke="#66687e" stroke-width="1.25"/>
<circle cx="320.5" cy="911.7" r="13.2" fill="#d4d0cd" stroke="#66687e" stroke-width="1.25"/>
<circle cx="389.2" cy="915.0" r="10.8" fill="#d4d0cd" stroke="#66687e" stroke-width="1.25"/>
<circle cx="335.4" cy="933.2" r="10.8" fill="#d4d0cd" stroke="#66687e" stroke-width="1.25"/>
<circle cx="358.6" cy="930.7" r="10.8" fill="#d4d0cd" stroke="#66687e" stroke-width="1.25"/>
<circle cx="342.0" cy="952.3" r="9.1" fill="#d4d0cd" stroke="#66687e" stroke-width="1.25"/>
<circle cx="364.4" cy="952.3" r="10.8" fill="#d4d0cd" stroke="#66687e" stroke-width="1.25"/>
<circle cx="384.2" cy="957.2" r="9.1" fill="#d4d0cd" stroke="#66687e" stroke-width="1.25"/>
<circle cx="407.0" cy="848.2" r="11.9" fill="#d4d0cd" stroke="#66687e" stroke-width="1.25"/>
<circle cx="429.0" cy="860.0" r="10.5" fill="#d4d0cd" stroke="#66687e" stroke-width="1.25"/>
<circle cx="451.9" cy="866.8" r="11.5" fill="#d4d0cd" stroke="#66687e" stroke-width="1.25"/>
<circle cx="475.6" cy="860.9" r="11.5" fill="#d4d0cd" stroke="#66687e" stroke-width="1.25"/>
<circle cx="499.4" cy="870.2" r="10.5" fill="#d4d0cd" stroke="#66687e" stroke-width="1.25"/>
<circle cx="410.4" cy="872.7" r="11.0" fill="#d4d0cd" stroke="#66687e" stroke-width="1.25"/>
<circle cx="430.7" cy="881.2" r="10.2" fill="#d4d0cd" stroke="#66687e" stroke-width="1.25"/>
<circle cx="451.1" cy="888.8" r="9.8" fill="#d4d0cd" stroke="#66687e" stroke-width="1.25"/>
<circle cx="479.0" cy="887.1" r="12.7" fill="#d4d0cd" stroke="#66687e" stroke-width="1.25"/>
<circle cx="498.5" cy="893.9" r="6.8" fill="#d4d0cd" stroke="#66687e" stroke-width="1.25"/>
<circle cx="414.7" cy="896.5" r="12.7" fill="#d4d0cd" stroke="#66687e" stroke-width="1.25"/>
<circle cx="463.8" cy="908.3" r="11.9" fill="#d4d0cd" stroke="#66687e" stroke-width="1.25"/>
<circle cx="437.5" cy="912.6" r="12.2" fill="#d4d0cd" stroke="#66687e" stroke-width="1.25"/>
<circle cx="484.1" cy="912.6" r="8.5" fill="#d4d0cd" stroke="#66687e" stroke-width="1.25"/>
<circle cx="415.5" cy="929.5" r="11.9" fill="#d4d0cd" stroke="#66687e" stroke-width="1.25"/>
<circle cx="457.9" cy="930.3" r="10.5" fill="#d4d0cd" stroke="#66687e" stroke-width="1.25"/>
<circle cx="437.5" cy="936.3" r="9.3" fill="#d4d0cd" stroke="#66687e" stroke-width="1.25"/>
<circle cx="395.0" cy="942.5" r="10.0" fill="#d4d0cd" stroke="#66687e" stroke-width="1.25"/>
<circle cx="418.0" cy="954.9" r="9.3" fill="#d4d0cd" stroke="#66687e" stroke-width="1.25"/>
<circle cx="439.2" cy="950.7" r="6.8" fill="#d4d0cd" stroke="#66687e" stroke-width="1.25"/>
</g></g></g>
<text x="270.6" y="752.6" font-size="26.5" fill="#fff" style="stroke:#fff">2</text>
</g>
<g clip-path="url(#pc2)">
<rect x="529" y="721" width="255" height="246" fill="url(#lg2)"/>
<rect x="529" y="721" width="255" height="246" fill="url(#gl2_0)"/>
<rect x="529" y="721" width="255" height="246" fill="url(#gl2_1)"/>
<rect x="529" y="721" width="255" height="246" fill="url(#gl2_2)"/>
<g filter="url(#soft)">
<ellipse cx="655.6" cy="844.8" rx="122.7" ry="120.6" fill="url(#fg2)"/>
<g clip-path="url(#fc2)"><g filter="url(#tex2)">
<circle cx="592.4" cy="747.7" r="9.2" fill="#d4d0cd" stroke="#66687e" stroke-width="1.25"/>
<circle cx="621.6" cy="739.4" r="11.7" fill="#d4d0cd" stroke="#66687e" stroke-width="1.25"/>
<circle cx="645.8" cy="730.2" r="10.0" fill="#d4d0cd" stroke="#66687e" stroke-width="1.25"/>
<circle cx="654.5" cy="747.0" r="10.3" fill="#d4d0cd" stroke="#66687e" stroke-width="1.25"/>
<circle cx="582.4" cy="767.7" r="11.3" fill="#d4d0cd" stroke="#66687e" stroke-width="1.25"/>
<circle cx="610.0" cy="761.9" r="11.7" fill="#d4d0cd" stroke="#66687e" stroke-width="1.25"/>
<circle cx="635.8" cy="761.1" r="12.5" fill="#d4d0cd" stroke="#66687e" stroke-width="1.25"/>
<circle cx="562.4" cy="781.9" r="11.3" fill="#d4d0cd" stroke="#66687e" stroke-width="1.25"/>
<circle cx="602.4" cy="781.9" r="10.8" fill="#d4d0cd" stroke="#66687e" stroke-width="1.25"/>
<circle cx="623.3" cy="780.2" r="10.0" fill="#d4d0cd" stroke="#66687e" stroke-width="1.25"/>
<circle cx="654.5" cy="776.5" r="10.8" fill="#d4d0cd" stroke="#66687e" stroke-width="1.25"/>
<circle cx="639.1" cy="791.1" r="10.0" fill="#d4d0cd" stroke="#66687e" stroke-width="1.25"/>
<circle cx="582.4" cy="794.4" r="11.7" fill="#d4d0cd" stroke="#66687e" stroke-width="1.25"/>
<circle cx="544.9" cy="797.8" r="9.2" fill="#d4d0cd" stroke="#66687e" stroke-width="1.25"/>
<circle cx="603.3" cy="803.6" r="10.8" fill="#d4d0cd" stroke="#66687e" stroke-width="1.25"/>
<circle cx="623.3" cy="803.6" r="10.3" fill="#d4d0cd" stroke="#66687e" stroke-width="1.25"/>
<circle cx="655.5" cy="801.0" r="10.5" fill="#d4d0cd" stroke="#66687e" stroke-width="1.25"/>
<circle cx="568.2" cy="809.5" r="11.3" fill="#d4d0cd" stroke="#66687e" stroke-width="1.25"/>
<circle cx="546.5" cy="817.8" r="11.7" fill="#d4d0cd" stroke="#66687e" stroke-width="1.25"/>
<circle cx="588.2" cy="817.0" r="10.0" fill="#d4d0cd" stroke="#66687e" stroke-width="1.25"/>
<circle cx="614.1" cy="822.8" r="11.3" fill="#d4d0cd" stroke="#66687e" stroke-width="1.25"/>
<circle cx="640.0" cy="817.8" r="10.8" fill="#d4d0cd" stroke="#66687e" stroke-width="1.25"/>
<circle cx="656.0" cy="828.5" r="10.0" fill="#d4d0cd" stroke="#66687e" stroke-width="1.25"/>
<circle cx="545.7" cy="840.0" r="10.8" fill="#d4d0cd" stroke="#66687e" stroke-width="1.25"/>
<circle cx="569.5" cy="838.0" r="11.3" fill="#d4d0cd" stroke="#66687e" stroke-width="1.25"/>
<circle cx="594.5" cy="838.0" r="11.5" fill="#d4d0cd" stroke="#66687e" stroke-width="1.25"/>
<circle cx="636.5" cy="840.0" r="10.3" fill="#d4d0cd" stroke="#66687e" stroke-width="1.25"/>
<circle cx="615.3" cy="843.0" r="10.5" fill="#d4d0cd" stroke="#66687e" stroke-width="1.25"/>
<circle cx="674.8" cy="738.9" r="10.6" fill="#d4d0cd" stroke="#66687e" stroke-width="1.25"/>
<circle cx="691.8" cy="732.1" r="7.7" fill="#d4d0cd" stroke="#66687e" stroke-width="1.25"/>
<circle cx="693.5" cy="749.2" r="10.2" fill="#d4d0cd" stroke="#66687e" stroke-width="1.25"/>
<circle cx="713.2" cy="753.4" r="11.1" fill="#d4d0cd" stroke="#66687e" stroke-width="1.25"/>
<circle cx="673.9" cy="761.1" r="11.1" fill="#d4d0cd" stroke="#66687e" stroke-width="1.25"/>
<circle cx="739.6" cy="764.5" r="10.2" fill="#d4d0cd" stroke="#66687e" stroke-width="1.25"/>
<circle cx="695.2" cy="770.5" r="10.6" fill="#d4d0cd" stroke="#66687e" stroke-width="1.25"/>
<circle cx="718.3" cy="775.6" r="11.6" fill="#d4d0cd" stroke="#66687e" stroke-width="1.25"/>
<circle cx="676.5" cy="784.2" r="11.6" fill="#d4d0cd" stroke="#66687e" stroke-width="1.25"/>
<circle cx="755.8" cy="782.5" r="9.4" fill="#d4d0cd" stroke="#66687e" stroke-width="1.25"/>
<circle cx="734.5" cy="793.6" r="12.0" fill="#d4d0cd" stroke="#66687e" stroke-width="1.25"/>
<circle cx="697.8" cy="796.1" r="10.6" fill="#d4d0cd" stroke="#66687e" stroke-width="1.25"/>
<circle cx="679.0" cy="808.1" r="11.1" fill="#d4d0cd" stroke="#66687e" stroke-width="1.25"/>
<circle cx="714.9" cy="806.4" r="9.9" fill="#d4d0cd" stroke="#66687e" stroke-width="1.25"/>
<circle cx="759.3" cy="809.8" r="12.8" fill="#d4d0cd" stroke="#66687e" stroke-width="1.25"/>
<circle cx="698.7" cy="816.6" r="9.4" fill="#d4d0cd" stroke="#66687e" stroke-width="1.25"/>
<circle cx="733.6" cy="819.2" r="12.0" fill="#d4d0cd" stroke="#66687e" stroke-width="1.25"/>
<circle cx="677.3" cy="830.3" r="11.1" fill="#d4d0cd" stroke="#66687e" stroke-width="1.25"/>
<circle cx="752.4" cy="832.8" r="9.4" fill="#d4d0cd" stroke="#66687e" stroke-width="1.25"/>
<circle cx="770.3" cy="830.3" r="6.8" fill="#d4d0cd" stroke="#66687e" stroke-width="1.25"/>
<circle cx="703.7" cy="840.0" r="11.0" fill="#d4d0cd" stroke="#66687e" stroke-width="1.25"/>
<circle cx="730.2" cy="843.0" r="11.0" fill="#d4d0cd" stroke="#66687e" stroke-width="1.25"/>
<circle cx="656.0" cy="852.0" r="11.0" fill="#d4d0cd" stroke="#66687e" stroke-width="1.25"/>
<circle cx="545.7" cy="858.9" r="10.0" fill="#d4d0cd" stroke="#66687e" stroke-width="1.25"/>
<circle cx="583.2" cy="857.2" r="12.0" fill="#d4d0cd" stroke="#66687e" stroke-width="1.25"/>
<circle cx="608.3" cy="868.9" r="12.5" fill="#d4d0cd" stroke="#66687e" stroke-width="1.25"/>
<circle cx="633.3" cy="862.2" r="10.8" fill="#d4d0cd" stroke="#66687e" stroke-width="1.25"/>
<circle cx="562.4" cy="871.4" r="11.3" fill="#d4d0cd" stroke="#66687e" stroke-width="1.25"/>
<circle cx="547.4" cy="886.4" r="9.2" fill="#d4d0cd" stroke="#66687e" stroke-width="1.25"/>
<circle cx="583.2" cy="883.1" r="10.8" fill="#d4d0cd" stroke="#66687e" stroke-width="1.25"/>
<circle cx="628.3" cy="883.9" r="10.3" fill="#d4d0cd" stroke="#66687e" stroke-width="1.25"/>
<circle cx="652.5" cy="884.0" r="10.0" fill="#d4d0cd" stroke="#66687e" stroke-width="1.25"/>
<circle cx="602.4" cy="892.2" r="10.0" fill="#d4d0cd" stroke="#66687e" stroke-width="1.25"/>
<circle cx="565.7" cy="895.6" r="9.7" fill="#d4d0cd" stroke="#66687e" stroke-width="1.25"/>
<circle cx="585.7" cy="905.6" r="10.8" fill="#d4d0cd" stroke="#66687e" stroke-width="1.25"/>
<circle cx="636.6" cy="901.4" r="9.2" fill="#d4d0cd" stroke="#66687e" stroke-width="1.25"/>
<circle cx="654.5" cy="908.0" r="9.8" fill="#d4d0cd" stroke="#66687e" stroke-width="1.25"/>
<circle cx="615.8" cy="910.6" r="12.0" fill="#d4d0cd" stroke="#66687e" stroke-width="1.25"/>
<circle cx="566.5" cy="915.6" r="10.8" fill="#d4d0cd" stroke="#66687e" stroke-width="1.25"/>
<circle cx="637.5" cy="923.1" r="11.3" fill="#d4d0cd" stroke="#66687e" stroke-width="1.25"/>
<circle cx="595.8" cy="927.3" r="12.5" fill="#d4d0cd" stroke="#66687e" stroke-width="1.25"/>
<circle cx="617.5" cy="933.1" r="9.2" fill="#d4d0cd" stroke="#66687e" stroke-width="1.25"/>
<circle cx="658.0" cy="929.5" r="10.0" fill="#d4d0cd" stroke="#66687e" stroke-width="1.25"/>
<circle cx="610.8" cy="949.8" r="10.8" fill="#d4d0cd" stroke="#66687e" stroke-width="1.25"/>
<circle cx="635.0" cy="947.3" r="10.8" fill="#d4d0cd" stroke="#66687e" stroke-width="1.25"/>
<circle cx="586.6" cy="941.5" r="6.7" fill="#d4d0cd" stroke="#66687e" stroke-width="1.25"/>
<circle cx="683.3" cy="850.8" r="10.6" fill="#d4d0cd" stroke="#66687e" stroke-width="1.25"/>
<circle cx="761.0" cy="856.8" r="12.8" fill="#d4d0cd" stroke="#66687e" stroke-width="1.25"/>
<circle cx="676.5" cy="873.0" r="12.0" fill="#d4d0cd" stroke="#66687e" stroke-width="1.25"/>
<circle cx="701.2" cy="865.3" r="11.1" fill="#d4d0cd" stroke="#66687e" stroke-width="1.25"/>
<circle cx="727.7" cy="868.7" r="12.3" fill="#d4d0cd" stroke="#66687e" stroke-width="1.25"/>
<circle cx="698.7" cy="889.2" r="12.8" fill="#d4d0cd" stroke="#66687e" stroke-width="1.25"/>
<circle cx="752.4" cy="879.0" r="12.0" fill="#d4d0cd" stroke="#66687e" stroke-width="1.25"/>
<circle cx="772.9" cy="875.6" r="6.8" fill="#d4d0cd" stroke="#66687e" stroke-width="1.25"/>
<circle cx="673.0" cy="895.2" r="10.6" fill="#d4d0cd" stroke="#66687e" stroke-width="1.25"/>
<circle cx="725.1" cy="896.9" r="11.6" fill="#d4d0cd" stroke="#66687e" stroke-width="1.25"/>
<circle cx="750.7" cy="902.0" r="10.6" fill="#d4d0cd" stroke="#66687e" stroke-width="1.25"/>
<circle cx="687.6" cy="913.1" r="11.1" fill="#d4d0cd" stroke="#66687e" stroke-width="1.25"/>
<circle cx="708.9" cy="909.7" r="8.2" fill="#d4d0cd" stroke="#66687e" stroke-width="1.25"/>
<circle cx="731.9" cy="921.6" r="11.6" fill="#d4d0cd" stroke="#66687e" stroke-width="1.25"/>
<circle cx="681.6" cy="936.2" r="11.6" fill="#d4d0cd" stroke="#66687e" stroke-width="1.25"/>
<circle cx="706.3" cy="931.0" r="12.0" fill="#d4d0cd" stroke="#66687e" stroke-width="1.25"/>
<circle cx="663.7" cy="950.7" r="11.6" fill="#d4d0cd" stroke="#66687e" stroke-width="1.25"/>
<circle cx="696.1" cy="951.5" r="10.6" fill="#d4d0cd" stroke="#66687e" stroke-width="1.25"/>
<circle cx="726.0" cy="941.3" r="6.8" fill="#d4d0cd" stroke="#66687e" stroke-width="1.25"/>
</g></g></g>
<text x="536.6" y="752.6" font-size="26.5" fill="#fff" style="stroke:#fff">3</text>
</g></svg>
</body></html>
